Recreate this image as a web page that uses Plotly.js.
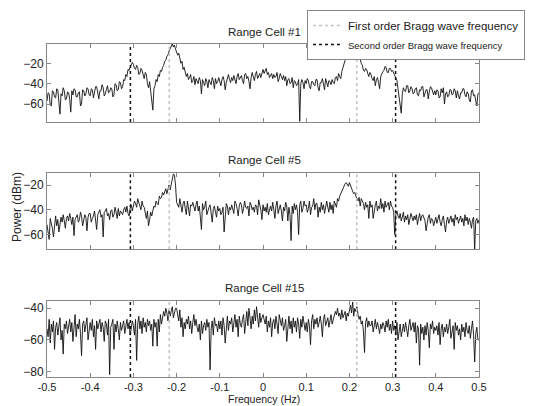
<!DOCTYPE html>
<html>
<head>
<meta charset="utf-8">
<script src="https://cdn.plot.ly/plotly-3.0.1.min.js"></script>
<style>html,body{margin:0;padding:0;background:#fff;}#chart{width:536px;height:406px;}</style>
</head>
<body>
<div id="chart"></div>
<script>
// Frequency grid start/step (Hz)
const freqStart = -0.5;
const freqStep = 0.0025;

// Range Cell #1 power (dBm)
const cell1 = [
-57,-49,-50,-61,-62,-47,-48,-53,-54,-45,
-46,-58,-70,-50,-52,-44,-47,-56,-55,-48,
-49,-55,-68,-47,-51,-45,-46,-53,-53,-49,
-48,-62,-60,-46,-47,-52,-50,-44,-45,-51,
-52,-45,-46,-54,-49,-43,-43,-50,-55,-47,
-47,-41,-44,-52,-50,-46,-42,-49,-48,-44,
-45,-53,-51,-40,-41,-47,-46,-38,-39,-45,
-43,-36,-37,-31,-33,-26,-27,-24,-22,-19,
-21,-25,-26,-22,-24,-31,-30,-25,-27,-33,
-35,-29,-31,-40,-44,-38,-48,-55,-66,-45,
-42,-36,-38,-31,-33,-27,-28,-24,-22,-18,
-17,-13,-12,-8,-6,-3,-1,-4,-2,-6,
-9,-12,-10,-16,-20,-18,-26,-24,-29,-33,
-30,-36,-34,-31,-39,-37,-33,-41,-35,-38,
-40,-34,-37,-50,-36,-39,-42,-35,-38,-44,
-36,-39,-41,-34,-37,-45,-35,-40,-38,-34,
-38,-42,-36,-33,-37,-46,-39,-35,-31,-36,
-39,-34,-37,-32,-35,-40,-33,-30,-36,-34,
-32,-37,-40,-31,-30,-35,-33,-38,-45,-34,
-29,-33,-37,-31,-28,-35,-32,-30,-34,-31,
-26,-30,-28,-25,-31,-29,-34,-32,-30,-35,
-31,-34,-33,-29,-38,-35,-30,-33,-36,-32,
-37,-33,-42,-36,-35,-40,-39,-34,-44,-37,
-38,-42,-41,-36,-77,-40,-36,-39,-45,-37,
-40,-35,-37,-43,-45,-38,-38,-41,-42,-36,
-36,-44,-47,-39,-39,-35,-41,-46,-35,-38,
-43,-37,-38,-41,-36,-39,-40,-34,-33,-37,
-30,-33,-35,-28,-24,-19,-17,-14,-12,-15,
-10,-13,-9,-11,-13,-7,-8,-12,-11,-15,
-16,-20,-22,-27,-28,-25,-26,-30,-33,-29,
-31,-35,-37,-33,-42,-36,-34,-39,-45,-33,
-30,-28,-27,-23,-24,-29,-29,-25,-25,-28,
-27,-30,-31,-36,-37,-45,-52,-60,-69,-50,
-44,-47,-48,-42,-42,-49,-47,-43,-45,-50,
-49,-45,-44,-51,-52,-46,-47,-43,-43,-53,
-50,-46,-46,-55,-48,-43,-44,-49,-51,-47,
-51,-46,-47,-54,-53,-45,-49,-44,-60,-50,
-48,-53,-52,-46,-46,-51,-50,-45,-47,-54,
-47,-52,-55,-49,-49,-45,-45,-51,-53,-48,
-50,-56,-58,-47,-46,-52,-51,-57,-62,-50,
-49];

// Range Cell #5 power (dBm)
const cell5 = [
-52,-60,-64,-47,-50,-55,-62,-49,-45,-53,
-48,-58,-52,-46,-50,-44,-49,-55,-47,-45,
-49,-43,-47,-52,-46,-61,-48,-45,-44,-50,
-48,-42,-45,-53,-47,-44,-46,-57,-46,-43,
-43,-50,-47,-45,-41,-48,-56,-44,-42,-40,
-46,-44,-62,-42,-41,-39,-45,-43,-48,-41,
-40,-46,-44,-38,-42,-47,-39,-45,-41,-43,
-44,-40,-38,-42,-37,-43,-45,-39,-36,-41,
-36,-33,-35,-38,-31,-34,-35,-40,-33,-37,
-38,-44,-47,-41,-53,-48,-42,-45,-40,-37,
-38,-33,-35,-36,-29,-31,-30,-26,-28,-25,
-23,-27,-22,-20,-24,-19,-16,-11,-12,-20,
-34,-37,-38,-31,-36,-42,-35,-33,-39,-44,
-33,-38,-45,-36,-37,-34,-39,-41,-36,-33,
-41,-37,-46,-56,-35,-40,-38,-33,-44,-40,
-38,-36,-42,-50,-39,-37,-42,-46,-37,-41,
-39,-44,-42,-38,-58,-41,-35,-37,-44,-38,
-40,-36,-39,-43,-33,-35,-39,-45,-37,-34,
-36,-43,-39,-33,-38,-39,-37,-45,-34,-36,
-40,-38,-42,-36,-37,-44,-32,-35,-40,-48,
-36,-41,-38,-42,-35,-44,-39,-37,-41,-34,
-40,-47,-37,-33,-43,-39,-36,-41,-49,-38,
-41,-34,-37,-49,-38,-44,-65,-37,-43,-35,
-40,-36,-42,-60,-36,-33,-42,-39,-33,-37,
-36,-42,-39,-33,-44,-38,-37,-31,-40,-35,
-35,-46,-38,-42,-34,-40,-36,-43,-38,-33,
-38,-42,-34,-40,-36,-43,-33,-35,-38,-31,
-33,-29,-27,-24,-22,-20,-19,-18,-20,-21,
-18,-21,-23,-25,-27,-26,-29,-32,-33,-30,
-37,-31,-33,-35,-40,-34,-38,-36,-47,-33,
-38,-36,-47,-40,-36,-33,-41,-37,-39,-31,
-39,-35,-42,-33,-38,-36,-34,-40,-33,-37,
-38,-42,-60,-44,-41,-45,-47,-43,-49,-46,
-42,-50,-45,-48,-44,-52,-47,-43,-46,-49,
-45,-48,-44,-52,-47,-43,-49,-45,-44,-46,
-49,-57,-50,-46,-44,-51,-47,-48,-53,-49,
-46,-51,-47,-44,-50,-53,-48,-45,-52,-58,
-49,-46,-51,-48,-45,-50,-47,-53,-44,-48,
-46,-51,-48,-45,-50,-47,-53,-44,-49,-46,
-52,-47,-50,-55,-48,-46,-72,-49,-47,-51,
-48];

// Range Cell #15 power (dBm)
const cell15 = [
-53,-58,-47,-62,-50,-55,-48,-66,-52,-49,
-57,-51,-46,-60,-54,-69,-50,-53,-48,-56,
-51,-47,-55,-49,-61,-52,-44,-58,-50,-53,
-47,-56,-70,-50,-48,-55,-51,-46,-60,-52,
-49,-54,-47,-58,-51,-66,-48,-53,-50,-47,
-55,-49,-52,-61,-48,-50,-57,-47,-82,-52,
-50,-47,-66,-50,-55,-48,-53,-60,-49,-54,
-51,-48,-56,-50,-47,-53,-49,-57,-52,-48,
-51,-57,-47,-73,-50,-45,-53,-48,-56,-46,
-52,-49,-55,-47,-51,-48,-54,-50,-64,-47,
-52,-49,-64,-47,-55,-44,-50,-46,-42,-45,
-40,-43,-48,-41,-45,-42,-39,-46,-43,-40,
-40,-43,-48,-41,-52,-46,-58,-49,-53,-47,
-50,-45,-53,-48,-56,-49,-44,-51,-47,-52,
-55,-50,-60,-48,-56,-51,-49,-54,-47,-52,
-49,-79,-53,-48,-57,-46,-51,-50,-55,-48,
-53,-48,-57,-46,-51,-62,-49,-45,-54,-48,
-50,-46,-55,-49,-44,-52,-47,-58,-45,-50,
-52,-47,-44,-56,-49,-42,-51,-40,-46,-53,
-45,-50,-41,-48,-39,-47,-52,-43,-49,-46,
-44,-47,-50,-45,-55,-48,-52,-46,-58,-49,
-47,-53,-45,-50,-56,-44,-49,-51,-46,-54,
-51,-47,-61,-50,-45,-53,-48,-56,-46,-52,
-48,-55,-46,-50,-59,-47,-52,-45,-49,-54,
-49,-55,-47,-51,-63,-48,-44,-53,-47,-50,
-46,-52,-49,-45,-50,-58,-47,-44,-51,-48,
-46,-52,-48,-44,-50,-47,-45,-42,-44,-40,
-45,-43,-47,-41,-46,-44,-42,-48,-43,-45,
-41,-38,-43,-36,-45,-40,-42,-39,-44,-47,
-45,-50,-48,-55,-68,-49,-46,-52,-48,-51,
-51,-48,-55,-50,-47,-53,-49,-52,-56,-50,
-53,-49,-51,-55,-48,-52,-47,-54,-50,-56,
-48,-54,-51,-57,-49,-60,-53,-50,-58,-52,
-50,-55,-49,-53,-58,-51,-47,-54,-52,-49,
-55,-49,-62,-51,-53,-76,-50,-56,-52,-60,
-51,-57,-49,-54,-65,-50,-53,-48,-56,-52,
-54,-51,-57,-49,-63,-53,-50,-58,-52,-55,
-50,-56,-52,-47,-59,-53,-51,-66,-49,-54,
-51,-57,-53,-60,-50,-55,-52,-58,-49,-54,
-56,-51,-59,-53,-48,-57,-74,-56,-52,-60,
-60];

// Bragg frequencies (Hz)
const firstOrderBragg = [-0.217, 0.217];
const secondOrderBragg = [-0.307, 0.307];

const panelTitles = ["Range Cell #1", "Range Cell #5", "Range Cell #15"];
const xTicks = [-0.5,-0.4,-0.3,-0.2,-0.1,0,0.1,0.2,0.3,0.4,0.5];
const yRanges = [[-77.7,-1],[-72,-10.5],[-83.5,-35.2]];
const yTicks = [[-60,-40,-20],[-60,-40,-20],[-80,-60,-40]];

const series = [cell1, cell5, cell15];
const freqs = cell1.map((_, i) => +(freqStart + i*freqStep).toFixed(4));

const W = 536, H = 406;
const xDom = [47/W, 479/W];
const yPix = [[44,122],[173.3,249.3],[300.7,377]];
const font = "Liberation Sans, Arial, sans-serif";

const traces = [];
const layout = {
  width: W, height: H,
  margin: {l:0, r:0, t:0, b:0, autoexpand:false},
  paper_bgcolor: "#fff", plot_bgcolor: "#fff",
  font: {family: font, size: 12, color: "#222"},
  showlegend: true,
  legend: {
    x: 307/W, y: 1 - 10/H, xanchor: "left", yanchor: "top",
    bordercolor: "#888", borderwidth: 1, bgcolor: "#fff",
    font: {family: font, size: 11.5, color: "#222"},
    tracegroupgap: 0, itemwidth: 30
  },
  annotations: [],
};

series.forEach((vals, k) => {
  const ax = k === 0 ? "" : String(k+1);
  const xa = "x" + ax, ya = "y" + ax;
  const [yr0, yr1] = yRanges[k];
  traces.push({x:freqs, y:vals, xaxis:xa, yaxis:ya, mode:"lines",
    line:{color:"#111", width:0.9}, showlegend:false, name:panelTitles[k]});
  firstOrderBragg.forEach((f, j) => {
    traces.push({x:[f,f], y:[yr0,yr1], xaxis:xa, yaxis:ya, mode:"lines",
      line:{color:"#c4c4c4", width:1.6, dash:"dot"},
      name:"First order Bragg wave frequency", legendgroup:"f1", legendrank:1,
      showlegend: k===0 && j===0, hoverinfo:"skip"});
  });
  secondOrderBragg.forEach((f, j) => {
    traces.push({x:[f,f], y:[yr0,yr1], xaxis:xa, yaxis:ya, mode:"lines",
      line:{color:"#111", width:1.5, dash:"dot"},
      name:'<span style="font-size:9.5px">Second order Bragg wave frequency</span>', legendgroup:"f2", legendrank:2,
      showlegend: k===0 && j===0, hoverinfo:"skip"});
  });

  const [pt, pb] = yPix[k];
  const common = {showline:true, mirror:"ticks", linecolor:"#888", linewidth:1,
    ticks:"inside", ticklen:4, tickcolor:"#888", showgrid:false, zeroline:false,
    tickfont:{family:font, size:12, color:"#222"}};
  layout["xaxis"+ax] = Object.assign({}, common, {
    domain: xDom, range:[-0.5,0.5], tickvals:xTicks,
    ticktext: xTicks.map(v => v===0 ? "0" : String(v)),
    tickfont:{family:font, size:11, color:"#222"},
    showticklabels: k===2, anchor: ya, ticklabelstandoff: 0 });
  layout["yaxis"+ax] = Object.assign({}, common, {
    domain: [1 - pb/H, 1 - pt/H], range:[yr0, yr1], tickvals: yTicks[k],
    anchor: xa });
  layout.annotations.push({text: panelTitles[k], xref:"paper", yref:"paper",
    x: 264.5/W, y: 1 - [32,160,288][k]/H, xanchor:"center", yanchor:"middle",
    showarrow:false, font:{family:font, size:11.5, color:"#222"}});
});

layout.annotations.push({text:"Power (dBm)", xref:"paper", yref:"paper",
  x: 17/W, y: 1 - 207/H, textangle:-90, xanchor:"center", yanchor:"middle",
  showarrow:false, font:{family:font, size:12, color:"#222"}});
layout.annotations.push({text:"Frequency (Hz)", xref:"paper", yref:"paper",
  x: 264/W, y: 0, xanchor:"center", yanchor:"bottom", borderpad:0,
  showarrow:false, font:{family:font, size:10.5, color:"#222"}});

Plotly.newPlot("chart", traces, layout, {staticPlot:true, displayModeBar:false});
</script>
</body>
</html>
